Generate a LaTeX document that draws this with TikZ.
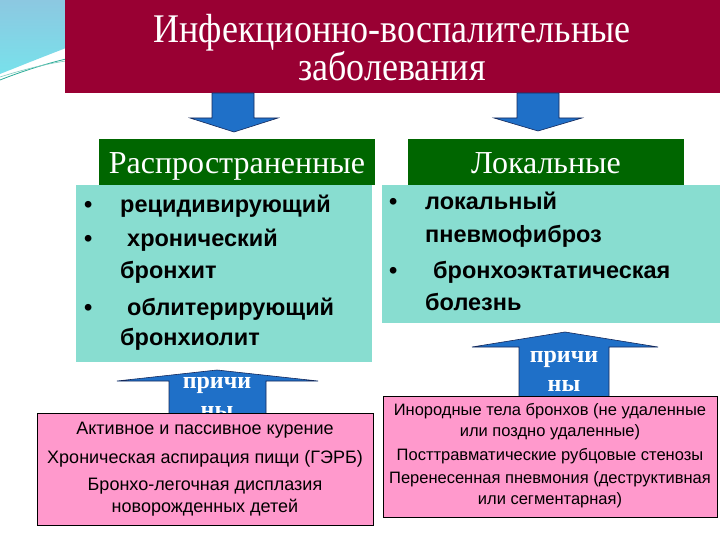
\documentclass[tikz,border=0pt]{standalone}
\usepackage{fontspec}
\usepackage{graphicx}
\setmainfont{Liberation Serif}
\setsansfont{Liberation Sans}
\definecolor{crimson}{RGB}{153,0,51}
\definecolor{dgreen}{RGB}{0,102,0}
\definecolor{teal1}{RGB}{136,221,208}
\definecolor{pink1}{RGB}{255,153,204}
\definecolor{arrowblue}{RGB}{31,112,200}
\definecolor{arrowedge}{RGB}{20,40,90}
\definecolor{cyanA}{RGB}{140,200,225}
\definecolor{cyanB}{RGB}{120,225,235}
\definecolor{swline}{RGB}{40,170,150}
\begin{document}
\begin{tikzpicture}[x=1pt,y=-1pt,
  rectbox/.style={inner sep=0pt,outer sep=0pt,anchor=north west},
  titletext/.style={anchor=base,text=white,font=\fontsize{36}{40}\selectfont},
  headtext/.style={anchor=base,text=white,font=\fontsize{32}{36}\selectfont},
  itemtext/.style={anchor=base west,inner sep=0pt,font=\sffamily\bfseries\fontsize{23.5}{27}\selectfont},
  causeL/.style={anchor=base,inner sep=0pt,font=\sffamily\fontsize{18}{20}\selectfont},
  causeR/.style={anchor=base,inner sep=0pt,font=\sffamily\fontsize{16.5}{19}\selectfont},
  blockarrow/.style={fill=arrowblue,draw=arrowedge,line width=0.6pt,line join=miter},
  pritext/.style={anchor=base,inner sep=0pt,text=white,font=\bfseries\fontsize{24}{28}\selectfont}]
\useasboundingbox[fill=white] (0,0) rectangle (720,540);

% decorative corner
\shade[top color=cyanA,bottom color=cyanB] (0,0) -- (66,0) -- (66,48) .. controls (40,58) and (20,66) .. (0,74) -- cycle;
\draw[swline,line width=0.8pt] (0,80) .. controls (20,72) and (45,64) .. (66,59);
\draw[swline!60,line width=0.6pt] (0,77) .. controls (22,70) and (45,64) .. (66,61);

% title
\node[rectbox,fill=crimson,minimum width=655pt,minimum height=93pt] (title) at (65,0) {};
\node[titletext] (t1) at (392,43) {\scalebox{1}[1.13]{Инфекционно-воспалительные}};
\node[titletext] (t2) at (392,81) {\scalebox{1}[1.13]{заболевания}};

% down arrows
\draw[blockarrow] (212,93) -- (254,93) -- (254,118) -- (278,118) -- (234,132) -- (190,118) -- (212,118) -- cycle;
\draw[blockarrow] (517,93) -- (559,93) -- (559,118) -- (582,118) -- (538,131) -- (494,118) -- (517,118) -- cycle;

% teal boxes
\node[rectbox,fill=teal1,minimum width=296pt,minimum height=177pt] (tealL) at (76,185) {};
\node[rectbox,fill=teal1,minimum width=338pt,minimum height=138pt] (tealR) at (382,185) {};

% green headers
\node[rectbox,fill=dgreen,minimum width=276pt,minimum height=46pt] (gL) at (99,139) {};
\node[rectbox,fill=dgreen,minimum width=276pt,minimum height=46pt] (gR) at (408,139) {};
\node[headtext] (hL) at (237,174) {Распространенные};
\node[headtext] (hR) at (546,174) {Локальные};

% left list
\node[itemtext] (bl1) at (84,212) {•};
\node[itemtext] (l1) at (120,212) {рецидивирующий};
\node[itemtext] (bl2) at (84,247) {•};
\node[itemtext] (l2) at (127,247) {хронический};
\node[itemtext] (l3) at (120,278) {бронхит};
\node[itemtext] (bl3) at (84,315) {•};
\node[itemtext] (l4) at (127,315) {облитерирующий};
\node[itemtext] (l5) at (120,345) {бронхиолит};

% right list
\node[itemtext] (br1) at (389,210) {•};
\node[itemtext] (r1) at (425,210) {локальный};
\node[itemtext] (r2) at (425,242) {пневмофиброз};
\node[itemtext] (br2) at (389,278) {•};
\node[itemtext] (r3) at (433,278) {бронхоэктатическая};
\node[itemtext] (r4) at (425,310) {болезнь};

% up arrows
\draw[blockarrow] (169,420) -- (169,381) -- (117,381) -- (217,370) -- (318,381) -- (266,381) -- (266,420) -- cycle;
\node[pritext] (pL1) at (217,388) {причи};
\begin{scope}
\clip (169,395) rectangle (266,413);
\node[pritext] (pL2) at (217,417) {ны};
\end{scope}
\draw[blockarrow] (519,405) -- (519,347) -- (472,347) -- (565,332) -- (658,347) -- (609,347) -- (609,405) -- cycle;
\node[pritext] (pR1) at (564,362) {причи};
\node[pritext] (pR2) at (564,391) {ны};

% pink boxes
\node[rectbox,fill=pink1,draw=black,line width=0.8pt,minimum width=336pt,minimum height=112pt] (pkL) at (37,413) {};
\node[causeL] (c1) at (205,434) {Активное и пассивное курение};
\node[causeL] (c2) at (205,463) {Хроническая аспирация пищи (ГЭРБ)};
\node[causeL] (c3) at (205,490) {Бронхо-легочная дисплазия};
\node[causeL] (c4) at (205,512) {новорожденных детей};

\node[rectbox,fill=pink1,draw=black,line width=0.8pt,minimum width=334pt,minimum height=121pt] (pkR) at (383,396) {};
\node[causeR] (d1) at (550,415) {Инородные тела бронхов (не удаленные};
\node[causeR] (d2) at (550,436) {или поздно удаленные)};
\node[causeR] (d3) at (550,460) {Посттравматические рубцовые стенозы};
\node[causeR] (d4) at (550,483) {Перенесенная пневмония (деструктивная};
\node[causeR] (d5) at (550,504) {или сегментарная)};
\end{tikzpicture}
\end{document}
